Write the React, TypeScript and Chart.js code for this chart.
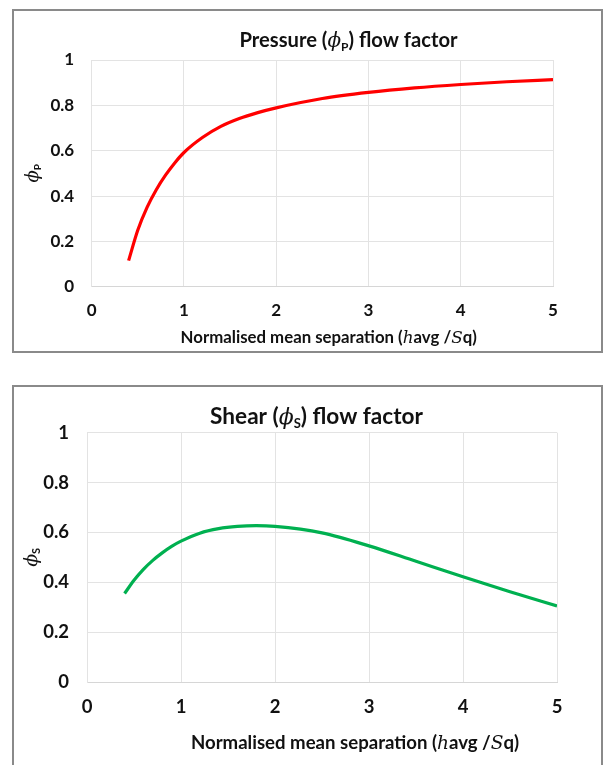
import React, { useEffect, useRef } from "react";
import { Chart, registerables } from "chart.js";
Chart.register(...registerables);

// ---- data ----
const pressureX = [0.4, 0.5, 0.6, 0.7, 0.8, 0.9, 1.0, 1.2, 1.4, 1.6, 1.8, 2.0, 2.5, 3.0, 3.5, 4.0, 4.5, 5.0];
const pressureY = [0.115, 0.25, 0.35, 0.428, 0.492, 0.546, 0.592, 0.658, 0.707, 0.742, 0.768, 0.789, 0.83, 0.857, 0.877, 0.892, 0.904, 0.913];

const shearX = [0.4, 0.5, 0.6, 0.7, 0.8, 0.9, 1.0, 1.2, 1.4, 1.6, 1.8, 2.0, 2.5, 3.0, 3.5, 4.0, 4.5, 5.0];
const shearY = [0.355, 0.408, 0.452, 0.488, 0.518, 0.544, 0.565, 0.597, 0.615, 0.624, 0.627, 0.624, 0.598, 0.546, 0.484, 0.422, 0.362, 0.305];

const xTickValues = [0, 1, 2, 3, 4, 5];
const yTickValues = [0, 0.2, 0.4, 0.6, 0.8, 1];

type Seg = { t: string; font: string; dy?: number };

const SANS = "Lato, 'Open Sans', sans-serif";
const SERIF = "'DejaVu Serif', serif";
const TEXT = "#111111";

function drawRich(ctx: CanvasRenderingContext2D, segs: Seg[], cx: number, baseY: number) {
  ctx.save();
  ctx.fillStyle = TEXT;
  ctx.textAlign = "left";
  ctx.textBaseline = "alphabetic";
  let w = 0;
  for (const s of segs) {
    ctx.font = s.font;
    w += ctx.measureText(s.t).width;
  }
  let x = cx - w / 2;
  for (const s of segs) {
    ctx.font = s.font;
    ctx.fillText(s.t, x, baseY + (s.dy || 0));
    x += ctx.measureText(s.t).width;
  }
  ctx.restore();
}

type Cfg = {
  xs: number[];
  ys: number[];
  color: string;
  width: number;
  height: number;
  chartTop: number;
  chartLeft: number;
  rightPad: number;
  xAxisHeight: number;
  tickSize: number;
  xTickPad: number;
  yTickPad: number;
  title: Seg[];
  titleDx: number;
  titleDy: number;
  yTitle: Seg[];
  yTitleX: number;
  xTitle: Seg[];
  xTitleDx: number;
  xTitleDy: number;
};

function FlowChart({ cfg, style }: { cfg: Cfg; style: React.CSSProperties }) {
  const ref = useRef<HTMLCanvasElement | null>(null);
  useEffect(() => {
    const canvas = ref.current;
    if (!canvas) return;
    const textPlugin = {
      id: "richText",
      afterDraw(chart: any) {
        const ctx: CanvasRenderingContext2D = chart.ctx;
        const a = chart.chartArea;
        drawRich(ctx, cfg.title, a.left + cfg.titleDx, a.top + cfg.titleDy);
        drawRich(ctx, cfg.xTitle, a.left + cfg.xTitleDx, a.bottom + cfg.xTitleDy);
        ctx.save();
        ctx.translate(cfg.yTitleX, (a.top + a.bottom) / 2);
        ctx.rotate(-Math.PI / 2);
        drawRich(ctx, cfg.yTitle, 0, 6);
        ctx.restore();
      },
    };
    const chart = new Chart(canvas, {
      type: "line",
      data: {
        datasets: [
          {
            data: cfg.xs.map((x, i) => ({ x, y: cfg.ys[i] })),
            borderColor: cfg.color,
            backgroundColor: cfg.color,
            borderWidth: 3.2,
            pointRadius: 0,
            fill: false,
            cubicInterpolationMode: "monotone",
          },
        ],
      },
      options: {
        responsive: false,
        animation: false,
        devicePixelRatio: 1,
        layout: { padding: { left: 0, top: cfg.chartTop, right: cfg.rightPad, bottom: 0 } },
        plugins: { legend: { display: false }, title: { display: false }, tooltip: { enabled: false } },
        scales: {
          x: {
            type: "linear",
            min: 0,
            max: 5,
            afterBuildTicks: (s: any) => {
              s.ticks = xTickValues.map((v) => ({ value: v }));
            },
            afterFit: (s: any) => {
              s.height = cfg.xAxisHeight;
            },
            grid: { color: "#e3e3e3", lineWidth: 1, drawTicks: false },
            border: { color: "#d6d6d6", width: 1 },
            ticks: {
              padding: cfg.xTickPad,
              color: TEXT,
              font: { family: SANS, size: cfg.tickSize, weight: "bold" },
              maxRotation: 0,
              callback: (v: any) => String(v),
            },
          },
          y: {
            type: "linear",
            min: 0,
            max: 1,
            afterBuildTicks: (s: any) => {
              s.ticks = yTickValues.map((v) => ({ value: v }));
            },
            afterFit: (s: any) => {
              s.width = cfg.chartLeft;
            },
            grid: { color: "#e3e3e3", lineWidth: 1, drawTicks: false },
            border: { color: "#e3e3e3", width: 1 },
            ticks: {
              padding: cfg.yTickPad,
              color: TEXT,
              font: { family: SANS, size: cfg.tickSize, weight: "bold" },
              callback: (v: any) => String(Math.round(Number(v) * 10) / 10),
            },
          },
        },
      } as any,
      plugins: [textPlugin],
    });
    return () => chart.destroy();
  }, [cfg]);
  return <canvas ref={ref} width={cfg.width} height={cfg.height} style={{ position: "absolute", display: "block", ...style }} />;
}

const topCfg: Cfg = {
  xs: pressureX,
  ys: pressureY,
  color: "#ff0000",
  width: 605,
  height: 370,
  chartTop: 60,
  chartLeft: 91.7,
  rightPad: 52,
  xAxisHeight: 83.3,
  tickSize: 17,
  xTickPad: 13.5,
  yTickPad: 17.5,
  title: [
    { t: "Pressure (", font: `bold 20.2px ${SANS}` },
    { t: "ϕ", font: `italic 20px ${SERIF}` },
    { t: "P", font: `bold 12px ${SANS}`, dy: 4 },
    { t: ") flow factor", font: `bold 20.2px ${SANS}` },
  ],
  titleDx: 256.8,
  titleDy: -13.3,
  yTitle: [
    { t: "ϕ", font: `italic 18px ${SERIF}` },
    { t: "P", font: `bold 10px ${SANS}`, dy: 3 },
  ],
  yTitleX: 32,
  xTitle: [
    { t: "Normalised mean separation (", font: `bold 16.8px ${SANS}` },
    { t: "h", font: `italic 16.8px ${SERIF}` },
    { t: "avg /", font: `bold 16.8px ${SANS}` },
    { t: "S", font: `italic 16.8px ${SERIF}` },
    { t: "q)", font: `bold 16.8px ${SANS}` },
  ],
  xTitleDx: 237,
  xTitleDy: 56.6,
};

const bottomCfg: Cfg = {
  xs: shearX,
  ys: shearY,
  color: "#00b050",
  width: 605,
  height: 395,
  chartTop: 62.7,
  chartLeft: 87,
  rightPad: 48,
  xAxisHeight: 83,
  tickSize: 18.5,
  xTickPad: 14,
  yTickPad: 18,
  title: [
    { t: "Shear (", font: `bold 22.6px ${SANS}` },
    { t: "ϕ", font: `italic 22px ${SERIF}` },
    { t: "S", font: `bold 13px ${SANS}`, dy: 4 },
    { t: ") flow factor", font: `bold 22.6px ${SANS}` },
  ],
  titleDx: 229.5,
  titleDy: -8.7,
  yTitle: [
    { t: "ϕ", font: `italic 19px ${SERIF}` },
    { t: "S", font: `bold 11px ${SANS}`, dy: 3 },
  ],
  yTitleX: 31,
  xTitle: [
    { t: "Normalised mean separation (", font: `bold 18.6px ${SANS}` },
    { t: "h", font: `italic 18.6px ${SERIF}` },
    { t: "avg /", font: `bold 18.6px ${SANS}` },
    { t: "S", font: `italic 18.6px ${SERIF}` },
    { t: "q)", font: `bold 18.6px ${SANS}` },
  ],
  xTitleDx: 268,
  xTitleDy: 67.3,
};

export default function App() {
  return (
    <div style={{ position: "absolute", left: 0, top: 0, width: 605, height: 765, overflow: "hidden", background: "#ffffff" }}>
      <div style={{ position: "absolute", left: 12, top: 9, width: 591, height: 344, border: "2px solid #8a8a8a", boxSizing: "border-box" }} />
      <div style={{ position: "absolute", left: 12, top: 385, width: 591, height: 420, border: "2px solid #8a8a8a", boxSizing: "border-box" }} />
      <FlowChart cfg={topCfg} style={{ left: 0, top: 0 }} />
      <FlowChart cfg={bottomCfg} style={{ left: 0, top: 370 }} />
    </div>
  );
}
